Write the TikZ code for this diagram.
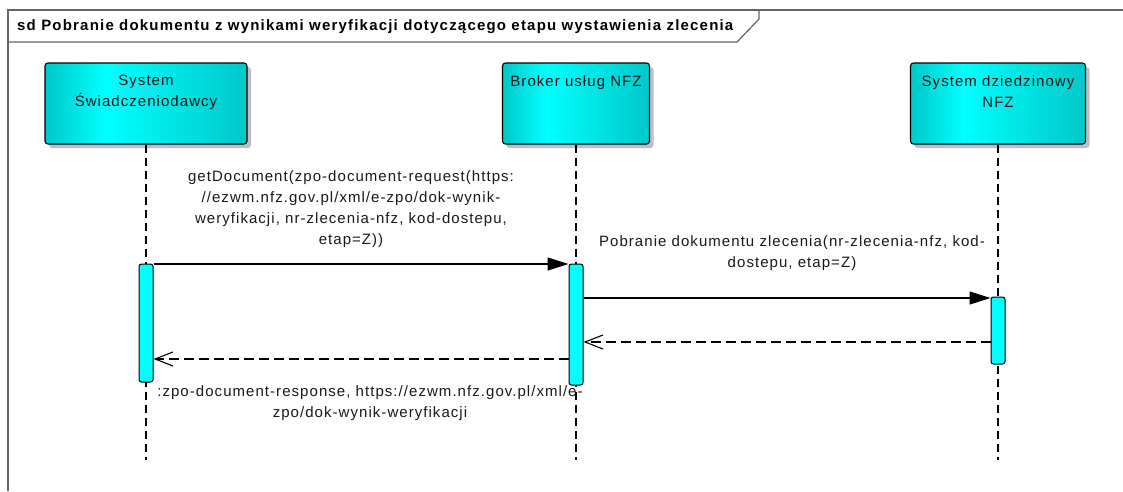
\documentclass[tikz,border=0pt]{standalone}
\usepackage{fontspec}
\setmainfont{Liberation Sans}[LetterSpace=7]
\usetikzlibrary{arrows.meta,shadows}
\definecolor{cyanedge}{RGB}{0,200,200}
\definecolor{cyanlite}{RGB}{0,255,255}
\definecolor{framegray}{RGB}{100,100,100}
\definecolor{shadowgray}{RGB}{190,190,200}
\definecolor{txt}{RGB}{25,25,25}
\pgfdeclarehorizontalshading{lifegrad}{100bp}{color(0bp)=(cyanedge); color(25bp)=(cyanedge); color(40bp)=(cyanlite); color(75bp)=(cyanedge); color(100bp)=(cyanedge)}
\tikzset{
  lifebox/.style={draw=black, line width=1.1pt, rounded corners=3pt, shading=lifegrad, inner sep=0pt,
    drop shadow={shadow xshift=4pt, shadow yshift=-4pt, fill=shadowgray, opacity=1}},
  boxtext/.style={font=\fontsize{15}{21}\selectfont, text=txt, align=center, anchor=north, inner sep=0pt},
  actbar/.style={draw=black, line width=1pt, rounded corners=2.5pt, fill=cyanlite, minimum width=14pt, inner sep=0pt},
  lifeline/.style={draw=black, line width=1.1pt, dash pattern=on 8pt off 5pt},
  syncmsg/.style={draw=black, line width=1.1pt, -{Triangle[length=21pt,width=13pt]}},
  retmsg/.style={draw=black, line width=1.1pt, dash pattern=on 10pt off 5pt, -{Straight Barb[length=18pt,width=14pt,line width=1.1pt]}},
  msgtext/.style={font=\fontsize{15}{21}\selectfont, text=txt, align=center, inner sep=0pt},
}
\begin{document}
\begin{tikzpicture}[x=1pt,y=-1pt]
\useasboundingbox (0,0) rectangle (1123,491);
\fill[white] (0,0) rectangle (1123,491);
% frame
\draw[framegray, line width=1.2pt] (1123,10) -- (8,10) -- (8,491);
\draw[framegray, line width=1.2pt] (8,42) -- (737,42) -- (759,19) -- (759,10);
\node[font=\fontsize{15}{18}\selectfont\bfseries\addfontfeature{LetterSpace=8}, text=black, anchor=west, inner sep=0pt] (title) at (17,26.5)
  {sd Pobranie dokumentu z wynikami weryfikacji dotyczącego etapu wystawienia zlecenia};
% participants
\node[lifebox, minimum width=202pt, minimum height=81pt] (p1) at (146,103.5) {};
\node[lifebox, minimum width=147pt, minimum height=81pt] (p2) at (576,103.5) {};
\node[lifebox, minimum width=175pt, minimum height=81pt] (p3) at (998,103.5) {};
\node[boxtext] (p1t) at (146,75) {System\\Świadczeniodawcy};
\node[boxtext] (p2t) at (576,75) {Broker usług NFZ};
\node[boxtext] (p3t) at (998,75) {System dziedzinowy\\NFZ};
% lifeline ends
\coordinate (e1) at (146,460);
\coordinate (e2) at (576,460);
\coordinate (e3) at (998,460);
\draw[lifeline] (p1.south) -- (e1);
\draw[lifeline] (p2.south) -- (e2);
\draw[lifeline] (p3.south) -- (e3);
% activation bars
\node[actbar, minimum height=118pt] (a1) at (146,323) {};
\node[actbar, minimum height=121pt] (a2) at (576,324.5) {};
\node[actbar, minimum height=67pt] (a3) at (998,330.5) {};
% message y levels
\coordinate (y1) at (0,264);
\coordinate (y2) at (0,298);
\coordinate (y3) at (0,342);
\coordinate (y4) at (0,359);
\draw[syncmsg] (a1.east |- y1) -- (a2.west |- y1);
\draw[syncmsg] (a2.east |- y2) -- (a3.west |- y2);
\draw[retmsg] (a3.west |- y3) -- (a2.east |- y3);
\draw[retmsg] (a2.west |- y4) -- (a1.east |- y4);
% labels
\node[msgtext] (l1) at (351,209.5) {getDocument(zpo-document-request(https:\\//ezwm.nfz.gov.pl/xml/e-zpo/dok-wynik-\\weryfikacji, nr-zlecenia-nfz, kod-dostepu,\\etap=Z))};
\node[msgtext] (l2) at (792,253) {Pobranie dokumentu zlecenia(nr-zlecenia-nfz, kod-\\dostepu, etap=Z)};
\node[msgtext] (l4) at (370,403) {:zpo-document-response, https://ezwm.nfz.gov.pl/xml/e-\\zpo/dok-wynik-weryfikacji};
\end{tikzpicture}
\end{document}
